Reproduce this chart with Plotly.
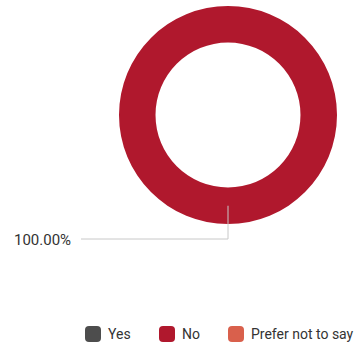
import plotly.graph_objects as go

labels = ["Yes", "No", "Prefer not to say"]
values = [0, 100, 0]
colors = ["#4D4D4D", "#B0182D", "#D9604C"]
label_text = "100.00%"

W, H = 358, 346
# pie geometry (pixels)
cx, cy, R = 228, 115, 109
hole = 0.665

fig = go.Figure(go.Pie(
    labels=labels, values=values, hole=hole, sort=False,
    marker=dict(colors=colors, line=dict(width=0)),
    textinfo="none", hoverinfo="label+percent",
    domain=dict(x=[(cx - R) / W, (cx + R) / W], y=[(H - cy - R) / H, (H - cy + R) / H]),
    direction="clockwise", showlegend=False,
))

# leader line from middle of ring down and left to label
ring_mid = cy + R * (1 + hole) / 2
y_elbow = 239
x_end = 81
fig.add_shape(type="path",
              path=f"M {cx/W} {1-ring_mid/H} L {cx/W} {1-y_elbow/H} L {x_end/W} {1-y_elbow/H}",
              xref="paper", yref="paper", line=dict(color="#C8C8C8", width=1))
fig.add_annotation(text=label_text, x=(x_end - 8) / W, y=1 - (y_elbow + 1) / H,
                   xref="paper", yref="paper", xanchor="right", yanchor="middle",
                   showarrow=False, font=dict(size=15, color="#333333", family="Roboto"))

# custom legend: rounded squares + labels
leg_x = [85, 159, 228]
leg_y, sq, r = 334, 16, 4
for lx, lab, col in zip(leg_x, labels, colors):
    x0, x1 = lx / W, (lx + sq) / W
    y0, y1 = 1 - (leg_y + sq / 2) / H, 1 - (leg_y - sq / 2) / H
    rx, ry = r / W, r / H
    path = (f"M {x0+rx} {y0} L {x1-rx} {y0} Q {x1} {y0} {x1} {y0+ry} L {x1} {y1-ry} "
            f"Q {x1} {y1} {x1-rx} {y1} L {x0+rx} {y1} Q {x0} {y1} {x0} {y1-ry} "
            f"L {x0} {y0+ry} Q {x0} {y0} {x0+rx} {y0} Z")
    fig.add_shape(type="path", path=path, xref="paper", yref="paper",
                  fillcolor=col, line=dict(width=0))
    fig.add_annotation(text=lab, x=(lx + sq + 5) / W, y=1 - leg_y / H,
                       xref="paper", yref="paper", xanchor="left", yanchor="middle",
                       showarrow=False, font=dict(size=14, color="#333333", family="Roboto"))

fig.update_layout(
    width=W, height=H, margin=dict(l=0, r=0, t=0, b=0),
    paper_bgcolor="white", plot_bgcolor="white",
    font=dict(family="Roboto", size=14, color="#333333"),
    showlegend=False,
)
fig.write_html("out.html", config={"displayModeBar": False},
               post_script="document.body.style.margin='0';")
